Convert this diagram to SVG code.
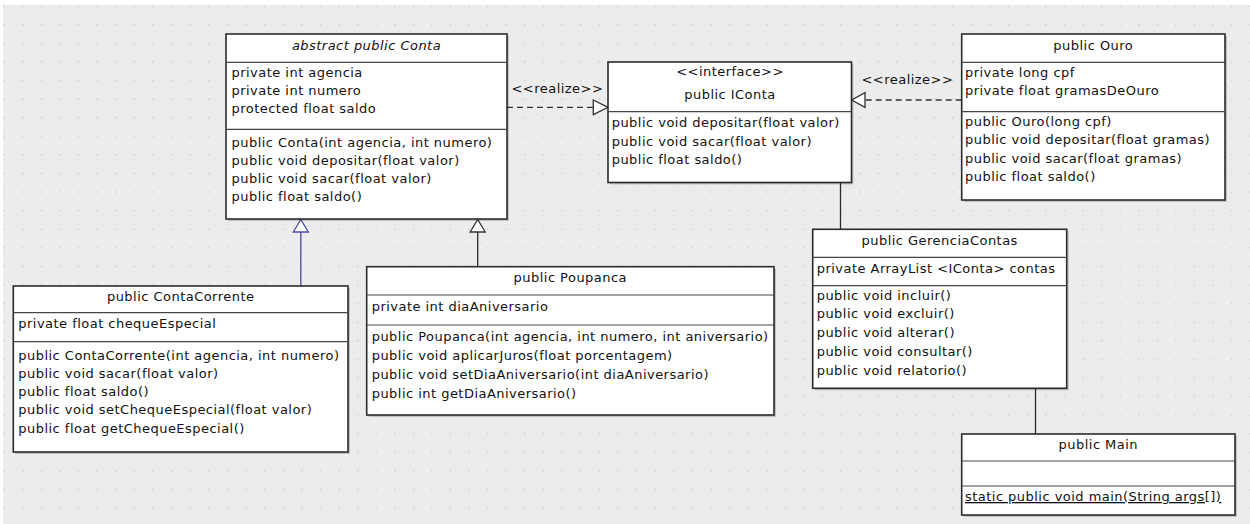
<svg xmlns="http://www.w3.org/2000/svg" width="1250" height="524" viewBox="0 0 1250 524">
<defs>
<pattern id="grid" x="3.4" y="5.3" width="18.6" height="18.6" patternUnits="userSpaceOnUse">
<rect x="0" y="0" width="1.4" height="1.4" fill="#c9c9c9"/>
</pattern>
<style>
.box{fill:#ffffff;stroke:#2b2b2b;stroke-width:1.6}
.shadow{fill:#000000;opacity:0.18}
.div{stroke:#474747;stroke-width:1.2}
.t{font-family:"DejaVu Sans",Verdana,sans-serif;font-size:13px;letter-spacing:0.47px;fill:#111111}
.c{text-anchor:middle}
.i{font-style:italic}
.u{text-decoration:underline}
.line{stroke:#2b2b2b;stroke-width:1.3;fill:none}
.dash{stroke:#333333;stroke-width:1.3;fill:none;stroke-dasharray:6,4}
.tri{fill:#ffffff;stroke:#333333;stroke-width:1.3}
.blue{stroke:#4b4ba3}
</style>
</defs>
<rect x="0" y="0" width="1250" height="524" fill="#ffffff"/>
<rect x="3" y="5" width="1247" height="519" fill="#ececec"/>
<rect x="3" y="5" width="1247" height="519" fill="url(#grid)"/>

<g id="connectors">
<line class="dash" x1="507" y1="107.3" x2="593.3" y2="107.3"/>
<polygon class="tri" points="608,107.3 593.3,100 593.3,114.6"/>
<text class="t" x="511.5" y="92.5">&lt;&lt;realize&gt;&gt;</text>
<line class="dash" x1="961.7" y1="100" x2="865" y2="100"/>
<polygon class="tri" points="851.7,100 865,92.7 865,107.3"/>
<text class="t" x="861.5" y="83.5">&lt;&lt;realize&gt;&gt;</text>
<line class="line blue" x1="300.8" y1="286" x2="300.8" y2="232"/>
<polygon class="tri blue" points="300.8,219.5 293.3,232 308.3,232"/>
<line class="line" x1="477.7" y1="266.7" x2="477.7" y2="232"/>
<polygon class="tri" points="477.7,219.5 470.2,232 485.2,232"/>
<line class="line" x1="840.5" y1="182.5" x2="840.5" y2="229.3"/>
<line class="line" x1="1035.5" y1="388.3" x2="1035.5" y2="434"/>
</g>

<g id="Conta">
<rect class="shadow" x="228" y="36" width="281" height="185"/>
<rect class="box" x="226" y="34" width="281" height="185"/>
<line class="div" x1="226" y1="62.3" x2="507" y2="62.3"/>
<line class="div" x1="226" y1="129.3" x2="507" y2="129.3"/>
<text class="t c i" x="366.5" y="50">abstract public Conta</text>
<text class="t" x="231.5" y="76.7">private int agencia</text>
<text class="t" x="231.5" y="95">private int numero</text>
<text class="t" x="231.5" y="113.3">protected float saldo</text>
<text class="t" x="231.5" y="146.5">public Conta(int agencia, int numero)</text>
<text class="t" x="231.5" y="164.8">public void depositar(float valor)</text>
<text class="t" x="231.5" y="183.1">public void sacar(float valor)</text>
<text class="t" x="231.5" y="201.4">public float saldo()</text>
</g>

<g id="IConta">
<rect class="shadow" x="610" y="64" width="243.5" height="120.5"/>
<rect class="box" x="608" y="62" width="243.5" height="120.5"/>
<line class="div" x1="608" y1="111.7" x2="851.5" y2="111.7"/>
<text class="t c" x="730" y="76">&lt;&lt;interface&gt;&gt;</text>
<text class="t c" x="730" y="99.3">public IConta</text>
<text class="t" x="611.7" y="126.7">public void depositar(float valor)</text>
<text class="t" x="611.7" y="145.5">public void sacar(float valor)</text>
<text class="t" x="611.7" y="164.3">public float saldo()</text>
</g>

<g id="Ouro">
<rect class="shadow" x="963.7" y="36" width="263.3" height="166"/>
<rect class="box" x="961.7" y="34" width="263.3" height="166"/>
<line class="div" x1="961.7" y1="62.3" x2="1225" y2="62.3"/>
<line class="div" x1="961.7" y1="111.7" x2="1225" y2="111.7"/>
<text class="t c" x="1093.3" y="49.5">public Ouro</text>
<text class="t" x="965" y="76.7">private long cpf</text>
<text class="t" x="965" y="95">private float gramasDeOuro</text>
<text class="t" x="965" y="126">public Ouro(long cpf)</text>
<text class="t" x="965" y="144.3">public void depositar(float gramas)</text>
<text class="t" x="965" y="162.6">public void sacar(float gramas)</text>
<text class="t" x="965" y="180.9">public float saldo()</text>
</g>

<g id="ContaCorrente">
<rect class="shadow" x="15.3" y="288" width="334.7" height="166"/>
<rect class="box" x="13.3" y="286" width="334.7" height="166"/>
<line class="div" x1="13.3" y1="312.7" x2="348" y2="312.7"/>
<line class="div" x1="13.3" y1="341.7" x2="348" y2="341.7"/>
<text class="t c" x="180.7" y="300.5">public ContaCorrente</text>
<text class="t" x="18.3" y="327.8">private float chequeEspecial</text>
<text class="t" x="18.3" y="359.5">public ContaCorrente(int agencia, int numero)</text>
<text class="t" x="18.3" y="377.8">public void sacar(float valor)</text>
<text class="t" x="18.3" y="396.1">public float saldo()</text>
<text class="t" x="18.3" y="414.4">public void setChequeEspecial(float valor)</text>
<text class="t" x="18.3" y="432.7">public float getChequeEspecial()</text>
</g>

<g id="Poupanca">
<rect class="shadow" x="368.7" y="268.7" width="407.3" height="148.3"/>
<rect class="box" x="366.7" y="266.7" width="407.3" height="148.3"/>
<line class="div" x1="366.7" y1="295" x2="774" y2="295"/>
<line class="div" x1="366.7" y1="325" x2="774" y2="325"/>
<text class="t c" x="570.3" y="282">public Poupanca</text>
<text class="t" x="371.7" y="310.5">private int diaAniversario</text>
<text class="t" x="371.7" y="341.2">public Poupanca(int agencia, int numero, int aniversario)</text>
<text class="t" x="371.7" y="360">public void aplicarJuros(float porcentagem)</text>
<text class="t" x="371.7" y="378.8">public void setDiaAniversario(int diaAniversario)</text>
<text class="t" x="371.7" y="397.6">public int getDiaAniversario()</text>
</g>

<g id="GerenciaContas">
<rect class="shadow" x="814.7" y="231.3" width="254" height="159"/>
<rect class="box" x="812.7" y="229.3" width="254" height="159"/>
<line class="div" x1="812.7" y1="257.3" x2="1066.7" y2="257.3"/>
<line class="div" x1="812.7" y1="285.7" x2="1066.7" y2="285.7"/>
<text class="t c" x="939.7" y="244.5">public GerenciaContas</text>
<text class="t" x="816.7" y="272.8">private ArrayList &lt;IConta&gt; contas</text>
<text class="t" x="816.7" y="299.5">public void incluir()</text>
<text class="t" x="816.7" y="318.4">public void excluir()</text>
<text class="t" x="816.7" y="337.3">public void alterar()</text>
<text class="t" x="816.7" y="356.2">public void consultar()</text>
<text class="t" x="816.7" y="375.1">public void relatorio()</text>
</g>

<g id="Main">
<rect class="shadow" x="963.7" y="436" width="273.3" height="81"/>
<rect class="box" x="961.7" y="434" width="273.3" height="81"/>
<line class="div" x1="961.7" y1="461" x2="1235" y2="461"/>
<line class="div" x1="961.7" y1="486" x2="1235" y2="486"/>
<text class="t c" x="1098.3" y="448.8">public Main</text>
<text class="t u" x="965" y="501">static public void main(String args[])</text>
</g>
</svg>
